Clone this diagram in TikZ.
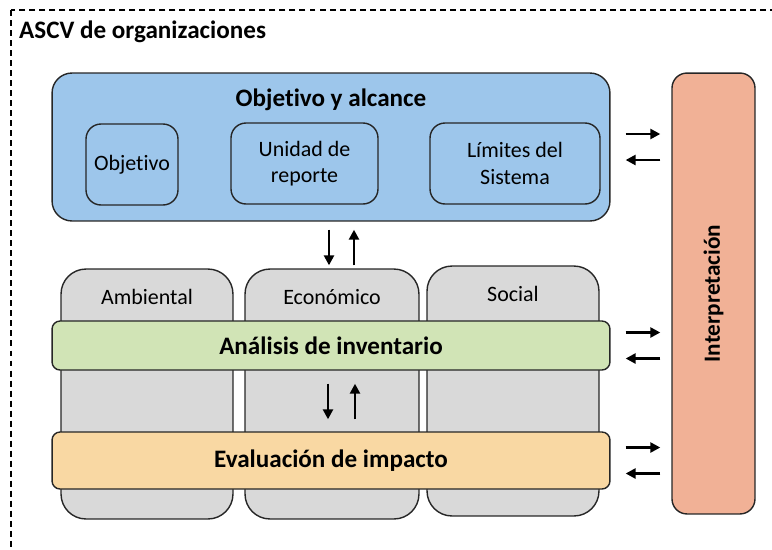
\documentclass[tikz,border=0pt]{standalone}
\usepackage{fontspec}
\setmainfont{Carlito}[Ligatures=NoCommon]
\usetikzlibrary{positioning,calc,arrows.meta}
\definecolor{azul}{RGB}{157,198,235}
\definecolor{gris}{RGB}{217,217,217}
\definecolor{verde}{RGB}{209,228,182}
\definecolor{naranja}{RGB}{249,216,163}
\definecolor{salmon}{RGB}{241,177,150}
\tikzset{
  caja/.style={draw=black!85, line width=0.8pt, inner sep=0pt, align=center},
  titulo/.style={font=\fontsize{14.3}{16}\selectfont\bfseries},
  texto/.style={font=\fontsize{12.5}{15}\selectfont},
  flecha/.style={-{Triangle[length=2mm,width=2mm]}, line width=1.4pt},
}

\begin{document}
\begin{tikzpicture}[x=0.02cm, y=-0.02cm]
\useasboundingbox (0,0) rectangle (772,549);
\clip (0,0) rectangle (772,549);
\draw[dash pattern=on 3.4pt off 2.3pt, line width=0.6pt] (11,10) rectangle (800,580);
\node[titulo, anchor=west] (ascv) at (13,32) {ASCV de organizaciones};

% objetivo y alcance
\node[caja, fill=azul, rounded corners=0.4cm, minimum width=11.16cm, minimum height=2.96cm] (alc) at (331,147) {};
\node[titulo] (alc-t) at (331,100) {Objetivo y alcance};
\node[caja, texto, fill=azul, rounded corners=0.3cm, minimum width=1.84cm, minimum height=1.62cm] (obj) at (132,164.5) {Objetivo};
\node[caja, texto, fill=azul, rounded corners=0.3cm, minimum width=2.94cm, minimum height=1.62cm] (uni) at (304.5,163.5) {Unidad de\\reporte};
\node[caja, texto, fill=azul, rounded corners=0.3cm, minimum width=3.4cm, minimum height=1.62cm] (lim) at (515,163.5) {Límites del\\Sistema};

% columnas
\node[caja, fill=gris, rounded corners=0.5cm, minimum width=3.44cm, minimum height=5cm] (amb) at (147,394) {};
\node[caja, fill=gris, rounded corners=0.5cm, minimum width=3.48cm, minimum height=5cm] (eco) at (332,394) {};
\node[caja, fill=gris, rounded corners=0.5cm, minimum width=3.44cm, minimum height=5cm] (soc) at (513,391) {};
\node[texto] (amb-t) at ($(amb.north)+(0,29)$) {Ambiental};
\node[texto] (eco-t) at ($(eco.north)+(0,29)$) {Económico};
\node[texto] (soc-t) at ($(soc.north)+(0,29)$) {Social};

% fases
\node[caja, titulo, fill=verde, rounded corners=0.16cm, minimum width=11.16cm, minimum height=0.98cm] (inv) at (331,345.5) {Análisis de inventario};
\node[caja, titulo, fill=naranja, rounded corners=0.16cm, minimum width=11.16cm, minimum height=1.14cm] (imp) at (331,460.5) {Evaluación de impacto};
\node[caja, fill=salmon, rounded corners=0.3cm, minimum width=1.66cm, minimum height=8.82cm] (int) at (713.5,293.5) {};
\node[titulo, font=\fontsize{13.2}{15}\selectfont\bfseries, rotate=90] (int-t) at (int.center) {Interpretación};

% flechas verticales
\draw[flecha] ($(alc.south)+(-2,8)$) -- ($(eco.north)+(-3,-3)$);
\draw[flecha] ($(eco.north)+(22,-3)$) -- ($(alc.south)+(23,8)$);
\draw[flecha] ($(inv.south)+(-3,13)$) -- ($(imp.north)+(-3,-12)$);
\draw[flecha] ($(imp.north)+(24,-12)$) -- ($(inv.south)+(24,13)$);

% flechas horizontales
\foreach \f in {alc,inv,imp} {
  \draw[flecha] ($(\f.east)+(15,-13)$) -- ($(int.west |- \f.east)+(-11,-13)$);
  \draw[flecha] ($(int.west |- \f.east)+(-11,13)$) -- ($(\f.east)+(15,13)$);
}
\end{tikzpicture}
\end{document}
